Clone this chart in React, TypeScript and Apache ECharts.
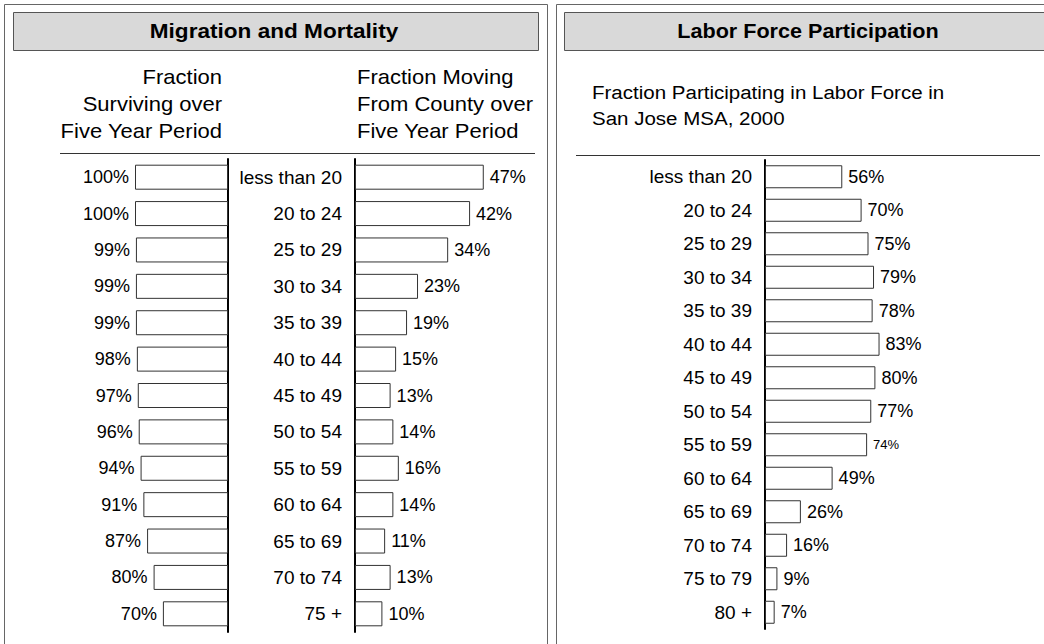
import React, { useEffect, useRef } from "react";
import * as echarts from "echarts";

const ageGroupsMigration = [
  "less than 20", "20 to 24", "25 to 29", "30 to 34", "35 to 39", "40 to 44",
  "45 to 49", "50 to 54", "55 to 59", "60 to 64", "65 to 69", "70 to 74", "75 +",
];
const survivalPct = [100, 100, 99, 99, 99, 98, 97, 96, 94, 91, 87, 80, 70];
const movingPct = [47, 42, 34, 23, 19, 15, 13, 14, 16, 14, 11, 13, 10];

const ageGroupsLabor = [
  "less than 20", "20 to 24", "25 to 29", "30 to 34", "35 to 39", "40 to 44",
  "45 to 49", "50 to 54", "55 to 59", "60 to 64", "65 to 69", "70 to 74",
  "75 to 79", "80 +",
];
const laborPct = [56, 70, 75, 79, 78, 83, 80, 77, 74, 49, 26, 16, 9, 7];

const titleLeft = "Migration and Mortality";
const titleRight = "Labor Force Participation";
const subLeftA = ["Fraction", "Surviving over", "Five Year Period"];
const subLeftB = ["Fraction Moving", "From County over", "Five Year Period"];
const subRight = ["Fraction Participating in Labor Force in", "San Jose MSA, 2000"];

const FONT = "'Liberation Sans', Arial, sans-serif";

export default function App() {
  const ref = useRef<HTMLDivElement>(null);
  useEffect(() => {
    if (!ref.current) return;
    const chart = echarts.init(ref.current, null, { renderer: "svg" });

    const barStyle = { color: "#ffffff", borderColor: "#333333", borderWidth: 1 };
    const catAxis = (grid: number, data: string[], pos: "left" | "right", showLabel: boolean) => ({
      gridIndex: grid,
      type: "category",
      data,
      inverse: true,
      position: pos,
      axisLine: { show: true, onZero: false, lineStyle: { color: "#000", width: 2 } },
      axisTick: { show: false },
      splitLine: { show: false },
      axisLabel: {
        show: showLabel,
        fontFamily: FONT,
        fontSize: 19,
        color: "#000",
        margin: 13,
      },
    });
    const valAxis = (grid: number, inverse: boolean) => ({
      gridIndex: grid,
      type: "value",
      min: 0,
      max: 100,
      inverse,
      show: false,
      splitLine: { show: false },
    });
    const lbl = (position: string) => ({
      show: true,
      position,
      distance: 6,
      formatter: "{c}%",
      fontFamily: FONT,
      fontSize: 18,
      color: "#000",
    });

    const txt = (text: string, x: number, y: number, align: string, size: number, sx: number, bold = false) => ({
      type: "text",
      x,
      y,
      scaleX: sx,
      z: 10,
      style: {
        text,
        fill: "#000",
        font: `${bold ? "bold " : ""}${size}px ${FONT}`,
        textAlign: align,
        textVerticalAlign: "middle",
      },
    });

    const graphic: any[] = [
      // left panel
      { type: "rect", shape: { x: 4.5, y: 4.5, width: 543, height: 660 }, style: { fill: "none", stroke: "#666", lineWidth: 1 }, z: 1 },
      { type: "rect", shape: { x: 13.5, y: 12.5, width: 525, height: 38 }, style: { fill: "#d9d9d9", stroke: "#555", lineWidth: 1 }, z: 1 },
      txt(titleLeft, 274, 31, "center", 20, 1.13, true),
      ...subLeftA.map((t, i) => txt(t, 222, 77 + i * 27, "right", 20, 1.1)),
      ...subLeftB.map((t, i) => txt(t, 357, 77 + i * 27, "left", 20, 1.1)),
      { type: "rect", shape: { x: 548, y: 56, width: 7, height: 100 }, style: { fill: "#fff" }, z: 20 },
      { type: "line", shape: { x1: 547.5, y1: 50, x2: 547.5, y2: 644 }, style: { stroke: "#666", lineWidth: 1 }, z: 21 },
      { type: "line", shape: { x1: 60, y1: 153.5, x2: 535, y2: 153.5 }, style: { stroke: "#333", lineWidth: 1 }, z: 1 },
      // right panel
      { type: "rect", shape: { x: 556.5, y: 4.5, width: 520, height: 660 }, style: { fill: "none", stroke: "#666", lineWidth: 1 }, z: 1 },
      { type: "rect", shape: { x: 564.5, y: 12.5, width: 500, height: 38 }, style: { fill: "#d9d9d9", stroke: "#555", lineWidth: 1 }, z: 1 },
      txt(titleRight, 808, 31, "center", 20, 1.08, true),
      ...subRight.map((t, i) => txt(t, 592, 92 + i * 26, "left", 19, 1.08)),
      { type: "line", shape: { x1: 576, y1: 155.5, x2: 1040, y2: 155.5 }, style: { stroke: "#333", lineWidth: 1 }, z: 1 },
    ];

    chart.setOption({
      animation: false,
      grid: [
        { left: 135, top: 159, width: 93, height: 473 },
        { left: 355, top: 159, width: 274, height: 473 },
        { left: 765, top: 160, width: 138, height: 469 },
      ],
      xAxis: [valAxis(0, true), valAxis(1, false), valAxis(2, false)],
      yAxis: [
        catAxis(0, ageGroupsMigration, "right", false),
        catAxis(1, ageGroupsMigration, "left", true),
        catAxis(2, ageGroupsLabor, "left", true),
      ],
      graphic,
      series: [
        {
          type: "bar",
          xAxisIndex: 0,
          yAxisIndex: 0,
          data: survivalPct,
          barWidth: 25,
          itemStyle: barStyle,
          label: lbl("left"),
          z: 5,
        },
        {
          type: "bar",
          xAxisIndex: 1,
          yAxisIndex: 1,
          data: movingPct,
          barWidth: 25,
          itemStyle: barStyle,
          label: lbl("right"),
          z: 5,
        },
        {
          type: "bar",
          xAxisIndex: 2,
          yAxisIndex: 2,
          data: laborPct.map((v, i) =>
            ageGroupsLabor[i] === "55 to 59" ? { value: v, label: { fontSize: 13 } } : v
          ),
          barWidth: 23,
          itemStyle: barStyle,
          label: lbl("right"),
          z: 5,
        },
      ],
    });
    return () => chart.dispose();
  }, []);

  return (
    <div
      ref={ref}
      style={{ position: "absolute", left: 0, top: 0, width: 1044, height: 644, background: "#fff" }}
    />
  );
}
